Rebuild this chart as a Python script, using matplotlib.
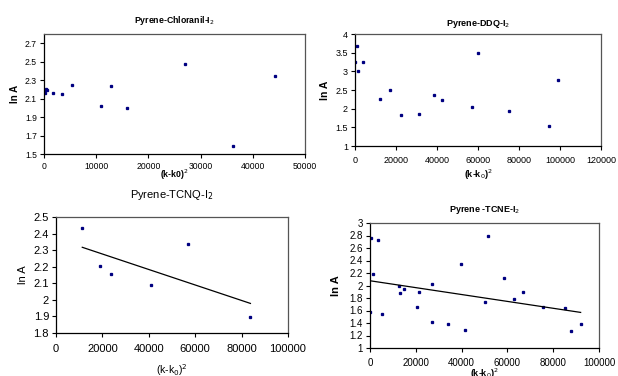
import numpy as np
import matplotlib
matplotlib.use("Agg")
import matplotlib.pyplot as plt
from matplotlib.ticker import FormatStrFormatter, MultipleLocator

plt.rcParams['font.family'] = ['Liberation Sans', 'DejaVu Sans']

# Pyrene-Chloranil-I2
chl_x = [100, 200, 400, 600, 1700, 3500, 5300, 10900, 12850, 15900, 27070, 36240, 44200]
chl_y = [2.19, 2.16, 2.20, 2.19, 2.165, 2.15, 2.25, 2.02, 2.24, 2.00, 2.475, 1.59, 2.34]

# Pyrene-DDQ-I2
ddq_x = [0, 1100, 1500, 4060, 12170, 17050, 22240, 31170, 38470, 42530, 56980, 59900, 75320, 94480, 99030]
ddq_y = [3.24, 3.69, 3.00, 3.24, 2.26, 2.50, 1.84, 1.87, 2.36, 2.24, 2.05, 3.49, 1.93, 1.53, 2.77]

# Pyrene-TCNQ-I2
tcnq_x = [11330, 18940, 23810, 40890, 56800, 83800]
tcnq_y = [2.436, 2.204, 2.158, 2.09, 2.338, 1.894]

# Pyrene-TCNE-I2
tcne_x = [0, 440, 1460, 3350, 5100, 12680, 13120, 15010, 20550, 21280, 26970, 27110, 33960,
          39650, 41550, 50290, 51460, 58600, 62680, 66910, 75360, 85280, 87610, 91980]
tcne_y = [1.578, 2.767, 2.178, 2.735, 1.546, 1.997, 1.886, 1.95, 1.658, 1.891, 2.029, 1.414, 1.377,
          2.347, 1.287, 1.732, 2.788, 2.119, 1.785, 1.897, 1.653, 1.637, 1.27, 1.387]

W, H = 618, 376
fig = plt.figure(figsize=(W / 100, H / 100), dpi=100)


def box(l, t, r, b):
    return [l / W, 1 - b / H, (r - l) / W, (b - t) / H]


def style(ax, xmax, xstep, ymin, ymax, ystep, fs, xpad):
    ax.set_xlim(0, xmax)
    ax.set_ylim(ymin, ymax)
    ax.xaxis.set_major_locator(MultipleLocator(xstep))
    ax.yaxis.set_major_locator(MultipleLocator(ystep))
    ax.yaxis.set_major_formatter(FormatStrFormatter('%g'))
    ax.tick_params(direction='out', length=3, width=0.8, labelsize=fs, pad=2)
    ax.tick_params(axis='x', pad=xpad)
    for s in ax.spines.values():
        s.set_linewidth(0.9)
    ax.spines['top'].set_color('#555555')
    ax.spines['right'].set_color('#555555')


mk = dict(marker='s', ms=1.4, ls='none', color='#000080')

# top-left
ax1 = fig.add_axes(box(44, 34, 305, 154))
ax1.plot(chl_x, chl_y, **mk)
style(ax1, 50000, 10000, 1.5, 2.8, 0.2, 6.2, 3)
ax1.set_yticks(np.arange(1.5, 2.71, 0.2))
ax1.set_title('Pyrene-Chloranil-I$_2$', fontsize=6.3, fontweight='bold', pad=8)
ax1.set_xlabel('(k-k0)$^2$', fontsize=6.3, fontweight='bold', labelpad=-3)
ax1.set_ylabel('ln A', fontsize=7, fontweight='bold', labelpad=4)

# top-right
ax2 = fig.add_axes(box(355, 34, 601, 146))
ax2.plot(ddq_x, ddq_y, **mk)
style(ax2, 120000, 20000, 1, 4, 0.5, 6.5, 4)
ax2.set_title('Pyrene-DDQ-I$_2$', fontsize=6.5, fontweight='bold', pad=6)
ax2.set_xlabel('(k-k$_0$)$^2$', fontsize=6.5, fontweight='bold', labelpad=2)
ax2.set_ylabel('ln A', fontsize=7.5, fontweight='bold', labelpad=4)

# bottom-left
ax3 = fig.add_axes(box(56, 217, 288, 333))
ax3.plot(tcnq_x, tcnq_y, **mk)
k, c = np.polyfit(tcnq_x, tcnq_y, 1)
xs = np.array([min(tcnq_x), max(tcnq_x)])
ax3.plot(xs, k * xs + c, color='black', lw=0.9)
style(ax3, 100000, 20000, 1.8, 2.5, 0.1, 8, 5)
ax3.set_title('Pyrene-TCNQ-I$_2$', fontsize=8, pad=14)
ax3.set_xlabel('(k-k$_0$)$^2$', fontsize=7.5, labelpad=6)
ax3.set_ylabel('ln A', fontsize=8, labelpad=4)

# bottom-right
ax4 = fig.add_axes(box(370, 223, 599, 348))
ax4.plot(tcne_x, tcne_y, **mk)
k, c = np.polyfit(tcne_x, tcne_y, 1)
xs = np.array([min(tcne_x), max(tcne_x)])
ax4.plot(xs, k * xs + c, color='black', lw=0.9)
style(ax4, 100000, 20000, 1, 3, 0.2, 7, 4)
ax4.set_title('Pyrene -TCNE-I$_2$', fontsize=6.5, fontweight='bold', pad=8)
ax4.set_xlabel('(k-k$_0$)$^2$', fontsize=6.5, fontweight='bold', labelpad=-1)
ax4.set_ylabel('ln A', fontsize=8, fontweight='bold', labelpad=6)

fig.savefig('out.png', dpi=100)
